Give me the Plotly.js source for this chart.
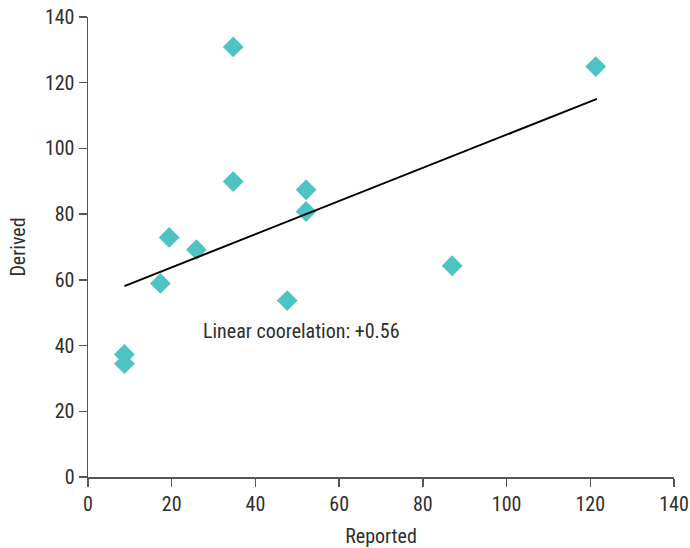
<!DOCTYPE html>
<html>
<head>
<meta charset="utf-8">
<script src="https://cdn.plot.ly/plotly-3.0.1.min.js"></script>
<style>html,body{margin:0;padding:0;background:#fff;}#chart{width:690px;height:548px;}</style>
</head>
<body>
<div id="chart"></div>
<script>
// Data
const reported = [34.7, 121.3, 34.7, 52.1, 52.1, 19.4, 25.9, 17.3, 47.6, 87.0, 8.7, 8.7];
const derived  = [130.9, 124.9, 89.9, 87.4, 80.8, 72.9, 69.2, 58.9, 53.7, 64.3, 37.3, 34.5];
const trendX = [8.7, 121.6];
const trendY = [58.1, 115.1];
const noteText = "Linear coorelation: +0.56";
const noteX = 27.0;
const noteY = 44.3;

const FONT = "'Liberation Sans Narrow', 'Arial Narrow', 'Roboto Condensed', Roboto, sans-serif";
const TXT = "#2e2e2e";

const traces = [
  {
    type: "scatter", mode: "markers",
    x: reported, y: derived,
    marker: {symbol: "diamond", size: 16, color: "#4dc4c3", line: {width: 0}},
    hoverinfo: "x+y", showlegend: false
  },
  {
    type: "scatter", mode: "lines",
    x: trendX, y: trendY,
    line: {color: "#000", width: 2},
    hoverinfo: "skip", showlegend: false
  }
];

const axisCommon = {
  range: [0, 140], dtick: 20, tick0: 0,
  showgrid: false, zeroline: false,
  showline: true, linecolor: "#555", linewidth: 1.5,
  ticks: "outside", ticklen: 8, tickwidth: 1.5, tickcolor: "#555",
  tickfont: {family: FONT, size: 20, color: TXT},
  automargin: false, fixedrange: true
};

const layout = {
  width: 690, height: 548,
  margin: {l: 88, r: 15.5, t: 16.5, b: 71.4},
  paper_bgcolor: "#fff", plot_bgcolor: "#fff",
  font: {family: FONT, color: TXT},
  xaxis: Object.assign({}, axisCommon, {
    title: {text: "Reported", font: {family: FONT, size: 20, color: TXT}, standoff: 17}
  }),
  yaxis: Object.assign({}, axisCommon, {
    title: {text: "Derived", font: {family: FONT, size: 20, color: TXT}, standoff: 14}
  }),
  annotations: [{
    x: noteX, y: noteY, xref: "x", yref: "y",
    text: noteText, showarrow: false,
    xanchor: "left", yanchor: "middle",
    font: {family: FONT, size: 20, color: TXT}
  }]
};

Plotly.newPlot("chart", traces, layout, {displayModeBar: false, staticPlot: true});
</script>
</body>
</html>
